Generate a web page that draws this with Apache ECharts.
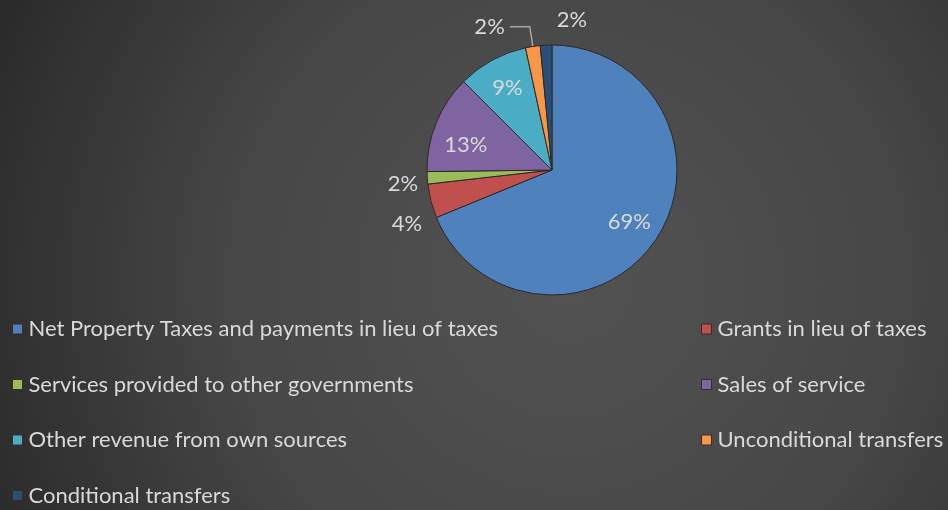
<!DOCTYPE html>
<html><head><meta charset="utf-8">
<script src="https://cdn.jsdelivr.net/npm/echarts@6/dist/echarts.min.js"></script>
<style>html,body{margin:0;padding:0;background:#333}#c{width:948px;height:510px}</style>
</head><body><div id="c"></div>
<script>
const categories = [
  'Net Property Taxes and payments in lieu of taxes',
  'Grants in lieu of taxes',
  'Services provided to other governments',
  'Sales of service',
  'Other revenue from own sources',
  'Unconditional transfers',
  'Conditional transfers'
];
const values = [68.8, 4.4, 1.6, 12.7, 9.1, 1.9, 1.5];
const colors = ['#4F81BD', '#C0504D', '#9BBB59', '#8064A2', '#4BACC6', '#F79646', '#2C4D75'];
const insideIdx = [0, 3, 4];

const total = values.reduce((a, b) => a + b, 0);
const pct = v => Math.round(v / total * 100) + '%';
const font = 'Lato, "Open Sans", sans-serif';
const txt = '#d9d9d9';

const mainData = categories.map((n, i) => ({
  name: n, value: values[i],
  itemStyle: { color: colors[i] },
  label: { show: insideIdx.indexOf(i) < 0 },
  labelLine: (i === 1 || i === 2) ? { show: false, length: 4, length2: 0 } : { show: i === 5 }
}));
const overlayData = categories.map((n, i) => ({
  name: n, value: values[i],
  label: { show: insideIdx.indexOf(i) >= 0 }
}));

const outerShift = { 1: [0, 22], 2: [0, 6], 6: [67, -5] };
const innerShift = { 3: [0, 10] };

const legendBase = {
  orient: 'vertical', top: 318, itemGap: 33.5, padding: 0,
  icon: 'rect', itemWidth: 10, itemHeight: 10,
  itemStyle: { borderColor: '#3a2a2a', borderWidth: 1 },
  textStyle: { color: txt, fontSize: 22, fontFamily: font, padding: [0, 0, 0, 1] },
  selectedMode: false
};

const chart = echarts.init(document.getElementById('c'));
chart.setOption({
  backgroundColor: {
    type: 'radial', x: 0.6, y: 0.55, r: 1.3,
    colorStops: [
      { offset: 0, color: '#525252' },
      { offset: 0.5, color: '#474747' },
      { offset: 1, color: '#272727' }
    ]
  },
  legend: [
    Object.assign({}, legendBase, {
      data: [categories[0], categories[2], categories[4], categories[6]],
      left: 12
    }),
    Object.assign({}, legendBase, {
      data: [categories[1], categories[3], categories[5]],
      left: 701
    })
  ],
  series: [
    {
      type: 'pie', center: [552, 170], radius: 125, startAngle: 90, clockwise: true,
      avoidLabelOverlap: false,
      data: mainData,
      itemStyle: { borderColor: '#2a2a2a', borderWidth: 1 },
      label: {
        position: 'outside', color: txt, fontSize: 22, fontFamily: font,
        formatter: p => pct(p.value)
      },
      labelLine: { length: 20, length2: 20, lineStyle: { color: '#a6a6a6', width: 1.5 } },
      labelLayout: p => outerShift[p.dataIndex] ? { dx: outerShift[p.dataIndex][0], dy: outerShift[p.dataIndex][1] } : {},
      emphasis: { disabled: true }
    },
    {
      type: 'pie', center: [552, 170], radius: [55, 125], startAngle: 90, clockwise: true,
      silent: true, avoidLabelOverlap: false,
      data: overlayData,
      itemStyle: { color: 'rgba(0,0,0,0)' },
      label: {
        position: 'inside', color: txt, fontSize: 22, fontFamily: font,
        formatter: p => pct(p.value)
      },
      labelLine: { show: false },
      labelLayout: p => innerShift[p.dataIndex] ? { dx: innerShift[p.dataIndex][0], dy: innerShift[p.dataIndex][1] } : {},
      emphasis: { disabled: true }
    }
  ]
});
</script></body></html>
